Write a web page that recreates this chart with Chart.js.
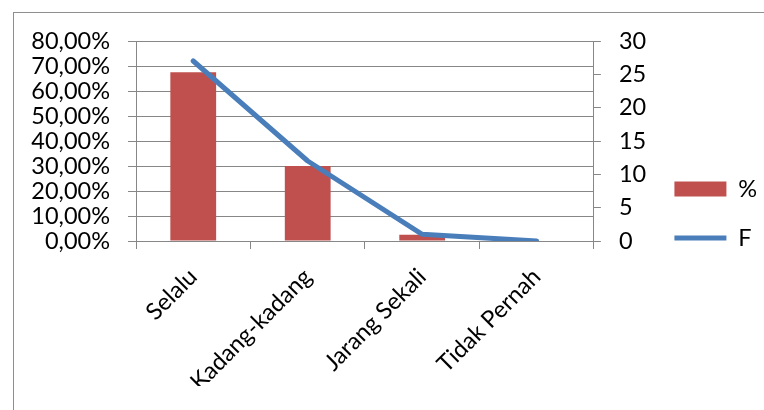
<!DOCTYPE html>
<html>
<head>
<meta charset="utf-8">
<script src="https://cdn.jsdelivr.net/npm/chart.js@4"></script>
<style>
    body { margin: 0; background: #fff; }
    #frame { position: absolute; left: 13px; top: 12px; width: 800px; height: 450px; border: 1.5px solid #8e8e8e; }
    #wrap { position: absolute; left: 0; top: 0; width: 764px; height: 410px; }
</style>
</head>
<body>
<div id="frame"></div>
<div id="wrap"><canvas id="chart"></canvas></div>
<script>
const categories = ['Selalu', 'Kadang-kadang', 'Jarang Sekali', 'Tidak Pernah'];
const percentValues = [67.5, 30, 2.5, 0];
const freqValues = [27, 12, 1, 0];
const percentAxis = { min: 0, max: 80, step: 10 };
const freqAxis = { min: 0, max: 30, step: 5 };

const gridColor = '#878787';
const labelFont = { family: 'Lato', size: 23.5 };

Chart.defaults.font.family = 'Lato';
Chart.defaults.color = '#000';

const ctx = document.getElementById('chart').getContext('2d');
const chart = new Chart(ctx, {
    type: 'bar',
    data: {
        labels: categories,
        datasets: [{
            label: '%',
            data: percentValues,
            backgroundColor: '#C0504D',
            barPercentage: 0.4,
            categoryPercentage: 1.0,
            yAxisID: 'y',
            pointStyle: 'rect',
            order: 1,
        }, {
            type: 'line',
            label: 'F',
            data: freqValues,
            borderColor: '#4A7EBB',
            backgroundColor: '#4A7EBB',
            borderWidth: 5,
            borderCapStyle: 'round',
            borderJoinStyle: 'round',
            pointRadius: 0,
            pointStyle: 'line',
            tension: 0,
            yAxisID: 'y1',
            order: 0,
        }],
    },
    options: {
        responsive: true,
        maintainAspectRatio: false,
        animation: false,
        layout: { padding: { top: 41, left: 0, right: -3, bottom: 24 } },
        plugins: {
            tooltip: { enabled: false },
            legend: {
                position: 'right',
                labels: {
                    font: labelFont,
                    usePointStyle: true,
                    pointStyleWidth: 52,
                    boxHeight: 15,
                    padding: 25.5,
                    sort: (a, b) => a.datasetIndex - b.datasetIndex,
                },
            },
        },
        scales: {
            x: {
                grid: { offset: true, drawOnChartArea: false, tickLength: 8, color: gridColor },
                border: { color: gridColor },
                ticks: { minRotation: 45, maxRotation: 45, autoSkip: false, padding: 14, font: labelFont },
                afterFit: (s) => { s.height = 145; },
            },
            y: {
                position: 'left',
                min: percentAxis.min,
                max: percentAxis.max,
                ticks: {
                    stepSize: percentAxis.step,
                    autoSkip: false,
                    padding: 18,
                    font: labelFont,
                    callback: (v) => v.toFixed(2).replace('.', ',') + '%',
                },
                grid: { color: gridColor, tickLength: 8 },
                border: { color: gridColor },
                afterFit: (s) => { s.width = 136; },
            },
            y1: {
                position: 'right',
                min: freqAxis.min,
                max: freqAxis.max,
                ticks: { stepSize: freqAxis.step, autoSkip: false, padding: 18, font: labelFont },
                grid: { drawOnChartArea: false, color: gridColor, tickLength: 7 },
                border: { color: gridColor },
                afterFit: (s) => { s.width = 55; },
            },
        },
    },
});
</script>
</body>
</html>
